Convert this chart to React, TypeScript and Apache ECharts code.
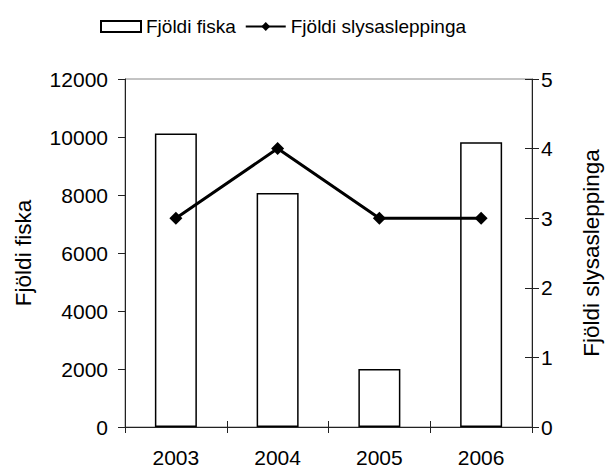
import React, { useEffect, useRef } from "react";
import * as echarts from "echarts";

const years = ["2003", "2004", "2005", "2006"];
const fishCount = [10120, 8070, 2000, 9820];
const releaseCount = [3, 4, 3, 3];
const leftTicks = { min: 0, max: 12000, interval: 2000 };
const rightTicks = { min: 0, max: 5, interval: 1 };

const FONT = "Liberation Sans, Arial, sans-serif";
const LEG_FS = 19;
const TICK_FS = 21;
const NAME_FS = 22.5;

export default function App() {
  const ref = useRef<HTMLDivElement>(null);
  useEffect(() => {
    if (!ref.current) return;
    const chart = echarts.init(ref.current, undefined, { renderer: "svg" });
    chart.setOption({
      animation: false,
      backgroundColor: "#ffffff",
      textStyle: { fontFamily: FONT, color: "#000" },
      legend: {
        top: 12,
        left: 95,
        itemWidth: 40,
        itemHeight: 11,
        itemGap: 9,
        textStyle: { fontFamily: FONT, fontSize: LEG_FS, color: "#000" },
        data: [
          { name: "Fjöldi fiska", icon: "rect" },
          { name: "Fjöldi slysasleppinga" },
        ],
      },
      grid: {
        left: 125,
        right: 64,
        top: 79,
        bottom: 43,
        show: true,
        borderColor: "#888",
        borderWidth: 1,
        backgroundColor: "transparent",
      },
      xAxis: [
        {
          type: "category",
          data: years,
          position: "bottom",
          axisLine: { lineStyle: { color: "#222", width: 1 } },
          axisTick: { show: true, inside: false, length: 6, lineStyle: { color: "#222" } },
          axisLabel: { fontFamily: FONT, fontSize: TICK_FS, color: "#000", margin: 20 },
        },
        {
          type: "category",
          data: years,
          position: "bottom",
          axisLine: { show: false },
          axisTick: { show: true, inside: true, length: 6, lineStyle: { color: "#222" } },
          axisLabel: { show: false },
        },
      ],
      yAxis: [
        {
          type: "value",
          ...leftTicks,
          position: "left",
          name: "Fjöldi fiska",
          nameLocation: "middle",
          nameGap: 90,
          nameTextStyle: { fontFamily: FONT, fontSize: NAME_FS, color: "#000" },
          axisLine: { show: true, lineStyle: { color: "#222", width: 1 } },
          axisTick: { show: true, length: 7, lineStyle: { color: "#222" } },
          axisLabel: {
            fontFamily: FONT,
            fontSize: TICK_FS,
            color: "#000",
            margin: 17,
            formatter: (v: number) => String(v),
          },
          splitLine: { show: false },
        },
        {
          type: "value",
          ...rightTicks,
          position: "right",
          name: "Fjöldi slysasleppinga",
          nameLocation: "middle",
          nameGap: 48,
          nameRotate: 90,
          nameTextStyle: { fontFamily: FONT, fontSize: NAME_FS, color: "#000" },
          axisLine: { show: true, lineStyle: { color: "#222", width: 1 } },
          axisTick: { show: true, length: 7, lineStyle: { color: "#222" } },
          axisLabel: {
            fontFamily: FONT,
            fontSize: TICK_FS,
            color: "#000",
            margin: 9,
            formatter: (v: number) => String(v),
          },
          splitLine: { show: false },
        },
        {
          type: "value",
          ...rightTicks,
          position: "right",
          axisLine: { show: false },
          axisTick: { show: true, inside: true, length: 7, lineStyle: { color: "#222" } },
          axisLabel: { show: false },
          splitLine: { show: false },
        },
      ],
      series: [
        {
          name: "Fjöldi fiska",
          type: "bar",
          data: fishCount,
          xAxisIndex: 0,
          yAxisIndex: 0,
          barWidth: 42,
          itemStyle: { color: "#ffffff", borderColor: "#000", borderWidth: 1.5 },
        },
        {
          name: "Fjöldi slysasleppinga",
          type: "line",
          data: releaseCount,
          xAxisIndex: 0,
          yAxisIndex: 1,
          symbol: "diamond",
          symbolSize: 13,
          lineStyle: { color: "#000", width: 3 },
          itemStyle: { color: "#000" },
        },
      ],
    });
    return () => chart.dispose();
  }, []);
  return <div ref={ref} style={{ width: 611, height: 470, position: "absolute", left: 0, top: 0 }} />;
}
